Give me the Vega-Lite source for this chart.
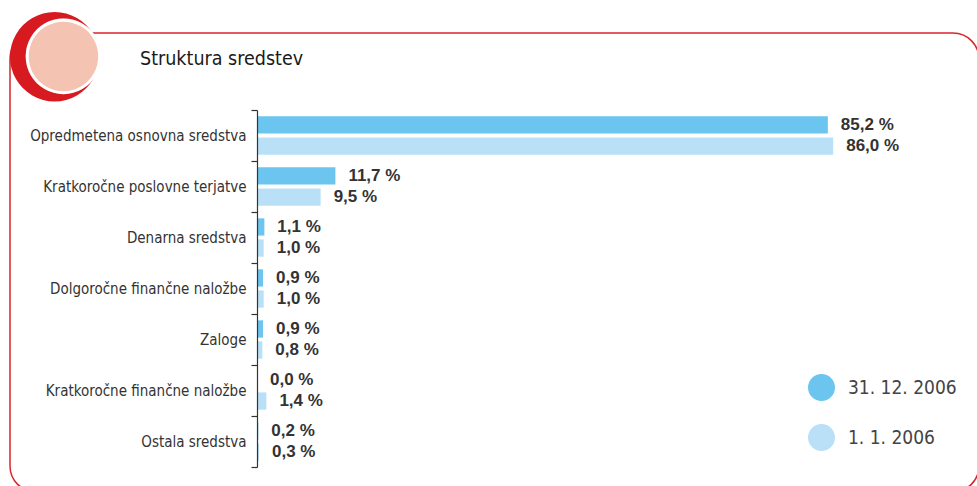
{
  "$schema": "https://vega.github.io/schema/vega-lite/v6.json",
  "width": 969,
  "height": 459,
  "autosize": {"type": "none"},
  "padding": {"left": 10, "top": 33, "right": 0, "bottom": 0},
  "background": "white",
  "title": {
    "text": "Struktura sredstev",
    "anchor": "start",
    "frame": "group",
    "dx": 130,
    "offset": -92,
    "baseline": "alphabetic",
    "font": "DejaVu Sans Condensed, Roboto, sans-serif",
    "fontSize": 19.5,
    "fontWeight": "normal",
    "color": "#1a1a1a"
  },
  "config": {
    "view": {"stroke": "#d9252c", "strokeWidth": 1.5, "cornerRadius": 26},
    "font": "DejaVu Sans Condensed, Roboto, sans-serif"
  },
  "data": {
    "values": [
      {"category": "Opredmetena osnovna sredstva", "series": "31. 12. 2006", "value": 85.2, "label": "85,2 %"},
      {"category": "Opredmetena osnovna sredstva", "series": "1. 1. 2006", "value": 86.0, "label": "86,0 %"},
      {"category": "Kratkoročne poslovne terjatve", "series": "31. 12. 2006", "value": 11.7, "label": "11,7 %"},
      {"category": "Kratkoročne poslovne terjatve", "series": "1. 1. 2006", "value": 9.5, "label": "9,5 %"},
      {"category": "Denarna sredstva", "series": "31. 12. 2006", "value": 1.1, "label": "1,1 %"},
      {"category": "Denarna sredstva", "series": "1. 1. 2006", "value": 1.0, "label": "1,0 %"},
      {"category": "Dolgoročne finančne naložbe", "series": "31. 12. 2006", "value": 0.9, "label": "0,9 %"},
      {"category": "Dolgoročne finančne naložbe", "series": "1. 1. 2006", "value": 1.0, "label": "1,0 %"},
      {"category": "Zaloge", "series": "31. 12. 2006", "value": 0.9, "label": "0,9 %"},
      {"category": "Zaloge", "series": "1. 1. 2006", "value": 0.8, "label": "0,8 %"},
      {"category": "Kratkoročne finančne naložbe", "series": "31. 12. 2006", "value": 0.0, "label": "0,0 %"},
      {"category": "Kratkoročne finančne naložbe", "series": "1. 1. 2006", "value": 1.4, "label": "1,4 %"},
      {"category": "Ostala sredstva", "series": "31. 12. 2006", "value": 0.2, "label": "0,2 %"},
      {"category": "Ostala sredstva", "series": "1. 1. 2006", "value": 0.3, "label": "0,3 %"}
    ]
  },
  "encoding": {
    "y": {
      "field": "category",
      "type": "nominal",
      "sort": null,
      "scale": {"range": [77, 434], "paddingInner": 0, "paddingOuter": 0},
      "axis": {
        "title": "●",
        "titleFont": "DejaVu Sans",
        "titleFontSize": 117,
        "titleFontWeight": "normal",
        "titleColor": "#d71920",
        "titleAngle": 0,
        "titleAlign": "center",
        "titleBaseline": "middle",
        "titleX": -203,
        "titleY": 18.5,
        "offset": -247,
        "bandPosition": 1,
        "tickExtra": true,
        "tickSize": 6,
        "tickColor": "#333",
        "tickWidth": 1.2,
        "domainColor": "#333",
        "domainWidth": 1.2,
        "labelFont": "DejaVu Sans Condensed, Roboto, sans-serif",
        "labelFontSize": 15,
        "labelColor": "#333",
        "labelPadding": 5,
        "labelLimit": 0,
        "grid": false,
        "zindex": 1
      }
    },
    "yOffset": {
      "field": "series",
      "type": "nominal",
      "sort": ["31. 12. 2006", "1. 1. 2006"],
      "scale": {"paddingInner": 0.18, "paddingOuter": 0.3}
    }
  },
  "layer": [
    {
      "mark": {"type": "bar", "opacity": 1},
      "encoding": {
        "x": {
          "field": "value",
          "type": "quantitative",
          "scale": {"domain": [0, 100], "range": [247, 917]},
          "axis": {
            "orient": "top",
            "labels": false,
            "ticks": false,
            "domain": false,
            "grid": false,
            "title": "●",
            "titleFont": "DejaVu Sans",
            "titleFontSize": 99,
            "titleFontWeight": "normal",
            "titleColor": "#ffffff",
            "titleAngle": 0,
            "titleAlign": "center",
            "titleBaseline": "middle",
            "titleX": 53,
            "titleY": 18.5,
            "zindex": 2
          }
        },
        "color": {
          "field": "series",
          "type": "nominal",
          "sort": ["31. 12. 2006", "1. 1. 2006"],
          "scale": {"domain": ["31. 12. 2006", "1. 1. 2006"], "range": ["#6cc5ee", "#b9e0f6"]},
          "legend": {
            "orient": "none",
            "legendX": 798,
            "legendY": 341,
            "title": null,
            "symbolType": "circle",
            "symbolSize": 729,
            "symbolStrokeWidth": 0,
            "symbolOpacity": 1,
            "labelFontSize": 19,
            "labelFont": "DejaVu Sans Condensed, Roboto, sans-serif",
            "labelColor": "#444",
            "labelOffset": 13,
            "labelLimit": 0,
            "rowPadding": 23,
            "padding": 0
          }
        }
      }
    },
    {
      "mark": {"type": "text", "align": "left", "baseline": "middle", "dx": 13, "font": "Liberation Sans", "fontSize": 17, "fontWeight": "bold", "color": "#333"},
      "encoding": {
        "x": {
          "field": "value",
          "type": "quantitative",
          "scale": {"domain": [0, 100], "range": [247, 917]},
          "axis": {
            "orient": "top",
            "labels": false,
            "ticks": false,
            "domain": false,
            "grid": false,
            "title": "●",
            "titleFont": "DejaVu Sans",
            "titleFontSize": 91,
            "titleFontWeight": "normal",
            "titleColor": "#f5c3b1",
            "titleAngle": 0,
            "titleAlign": "center",
            "titleBaseline": "middle",
            "titleX": 53,
            "titleY": 19,
            "zindex": 3
          }
        },
        "text": {"field": "label"}
      }
    }
  ],
  "resolve": {"axis": {"x": "independent"}}
}
